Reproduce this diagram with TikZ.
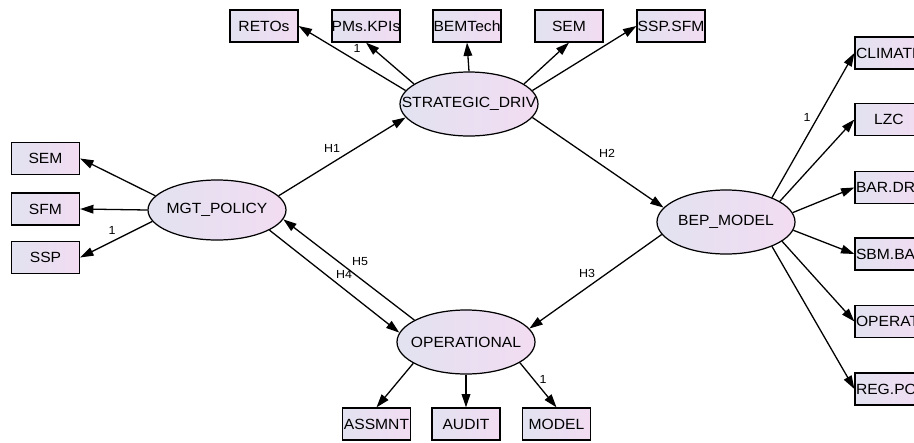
\documentclass[tikz,border=0pt]{standalone}
\usepackage{fontspec}
\setmainfont[FakeStretch=1.06]{Liberation Sans}
\usetikzlibrary{shapes.geometric,arrows.meta,shadings}
\definecolor{shL}{RGB}{226,226,241}
\definecolor{shR}{RGB}{242,220,242}
\tikzset{
  latent/.style={ellipse, draw=black, line width=1.05pt, left color=shL, right color=shR,
    minimum width=4.14cm, minimum height=1.92cm, inner sep=0pt,
    font=\fontsize{12.6}{14}\selectfont},
  obs/.style={rectangle, draw=black, line width=1.05pt, left color=shL, right color=shR,
    minimum width=2.04cm, minimum height=0.96cm, inner sep=0pt,
    font=\fontsize{12.6}{14}\selectfont},
  arr/.style={-{Triangle[length=4mm,width=2.6mm]}, line width=1.1pt},
  lab/.style={font=\fontsize{10}{12}\selectfont, inner sep=0pt},
}
\newcommand{\ctext}[1]{\makebox[0pt]{#1}}
\newcommand{\ltext}[1]{\makebox[1.98cm][l]{#1}}
\begin{document}
\begin{tikzpicture}[x=0.03cm,y=-0.03cm]
\useasboundingbox (0,0) rectangle (914,442);
\fill[white] (0,0) rectangle (914,442);
\clip (0,0) rectangle (914,442);

% latent variables
\node[latent] (strat) at (469,104) {\ctext{STRATEGIC\_DRIV}};
\node[latent, minimum height=1.8cm] (mgt) at (217,210) {\ctext{MGT\_POLICY}};
\node[latent] (bep) at (726,222) {\ctext{BEP\_MODEL}};
\node[latent] (op) at (466,342) {\ctext{OPERATIONAL}};

% top indicators
\node[obs] (retos) at (264,26) {\ctext{RETOs}};
\node[obs] (pms) at (366,26) {\ctext{PMs.KPIs}};
\node[obs] (bem) at (467,26) {\ctext{BEMTech}};
\node[obs] (semt) at (569,26) {\ctext{SEM}};
\node[obs] (sspsfm) at (671,26) {\ctext{SSP.SFM}};

% left indicators
\node[obs] (seml) at (45.5,158.5) {\ctext{SEM}};
\node[obs] (sfm) at (45.5,209) {\ctext{SFM}};
\node[obs] (ssp) at (45.5,257.5) {\ctext{SSP}};

% bottom indicators
\node[obs] (assm) at (376.5,424) {\ctext{ASSMNT}};
\node[obs] (audit) at (466,424) {\ctext{AUDIT}};
\node[obs] (model) at (556.5,424) {\ctext{MODEL}};

% right indicators (cut off by the picture's right edge, as in the original)
\node[obs] (clim) at (889,53) {\ltext{CLIMATE}};
\node[obs] (lzc) at (889,119.5) {\ctext{LZC}};
\node[obs] (bar) at (889,187.5) {\ltext{BAR.DR}};
\node[obs] (sbm) at (889,254) {\ltext{SBM.BA}};
\node[obs] (oper) at (889,321.5) {\ltext{OPERAT}};
\node[obs] (reg) at (889,389) {\ltext{REG.PO}};

% loadings
\draw[arr] (strat.168) -- (retos.east);
\draw[arr] (strat.160) -- (pms.south);
\draw[arr] (strat.north) -- (bem.south);
\draw[arr] (strat.20) -- (semt.south);
\draw[arr] (strat.12) -- (sspsfm.west);

\draw[arr] (mgt.167) -- (seml.east);
\draw[arr] (mgt.west) -- (sfm.east);
\draw[arr] (mgt.190) -- (ssp.east);

\draw[arr] (op.202) -- (assm.north);
\draw[arr] (op.south) -- (audit.north);
\draw[arr] (op.-21) -- (model.north);

\draw[arr] (bep.28.5) -- (clim.west);
\draw[arr] (bep.21) -- (lzc.west);
\draw[arr] (bep.8) -- (bar.west);
\draw[arr] (bep.-7) -- (sbm.west);
\draw[arr] (bep.-19) -- (oper.west);
\draw[arr] (bep.-28.5) -- (reg.west);

% structural paths
\draw[arr] (mgt.13) -- (strat.192);
\draw[arr] (strat.-12.5) -- (bep.167);
\draw[arr] (bep.191) -- (op.12);
\draw[arr] (mgt.-21) -- (op.172);
\draw[arr] (op.157) -- (mgt.-8);

% labels
\node[lab] (lh1) at (332,148) {H1};
\node[lab] (lh2) at (607,153) {H2};
\node[lab] (lh3) at (587,273) {H3};
\node[lab] (lh4) at (344,274) {H4};
\node[lab] (lh5) at (360,262) {H5};
\node[lab] (l1a) at (357,48) {1};
\node[lab] (l1b) at (112,230) {1};
\node[lab] (l1c) at (807,117) {1};
\node[lab] (l1d) at (543,379) {1};
\end{tikzpicture}
\end{document}
